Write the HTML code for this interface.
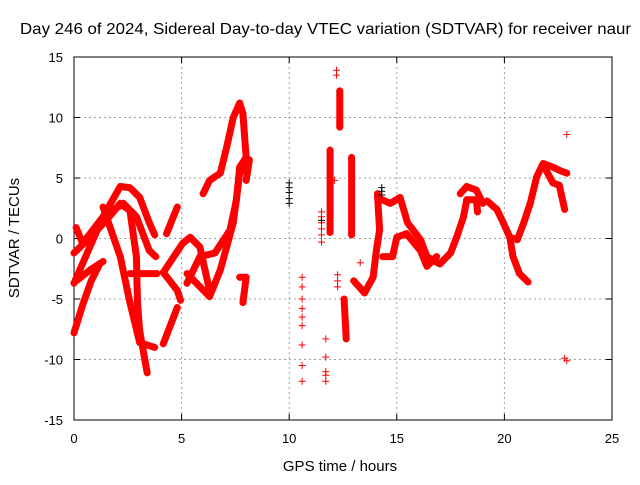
<!DOCTYPE html>
<html><head><meta charset="utf-8"><style>
body{margin:0;background:#fff;}
svg text{font-family:"Liberation Sans",sans-serif;fill:#000;}
</style></head><body>
<svg id="chart" width="640" height="480" viewBox="0 0 640 480" xmlns="http://www.w3.org/2000/svg">
<rect width="640" height="480" fill="#fff"/>
<text x="20" y="34" font-size="16" textLength="611" lengthAdjust="spacingAndGlyphs">Day 246 of 2024, Sidereal Day-to-day VTEC variation (SDTVAR) for receiver naur</text>
<g id="grid"></g><g id="axes"></g><g id="marks"></g>
<text x="340" y="471" font-size="15" text-anchor="middle">GPS time / hours</text>
<text transform="translate(19,238) rotate(-90)" font-size="15" text-anchor="middle">SDTVAR / TECUs</text>
</svg>
<script>
const xTicks=[0,5,10,15,20,25];
const yTicks=[-15,-10,-5,0,5,10,15];
const traces=[
[[0,-7.8],[0.4,-5.5],[0.8,-3.5],[1.2,-2.1]],
[[0,-3.7],[1.35,1.8],[2.15,4.3],[2.6,4.2],[3.05,3.4],[3.5,1.3],[3.75,0.3]],
[[0.1,0.9],[0.4,-0.4],[1.35,1.8],[2.3,2.9],[2.9,1.8],[3.5,-1],[3.8,-1.5]],
[[0,-1.2],[0.75,0.1],[1.5,1.5],[2.15,2.9],[2.6,2.3],[2.9,-1.5],[2.95,-5.3],[3.05,-7.6],[3.4,-11.1]],
[[1.35,2.6],[2.15,-1.5],[2.6,-5.3],[3.05,-8.6],[3.75,-9]],
[[0.1,-3.5],[0.75,-2.6],[1.35,-1.9]],
[[2.6,-2.9],[3.85,-2.9]],
[[4.15,-8.7],[4.8,-5.7]],
[[4.15,-2.8],[5.05,-0.4],[5.4,0.1],[5.85,-0.7],[6.3,-4.3],[6.3,-4.8]],
[[4.15,-2.8],[4.8,-4.3],[4.95,-5.1]],
[[4.3,0.4],[4.8,2.6]],
[[5.25,-3.7],[5.85,-1.5],[6.55,-1.2],[7.25,0.7],[7.55,3.2],[7.7,5.9],[8.0,6.7]],
[[6.0,3.7],[6.3,4.8],[6.8,5.4],[7.1,7.6],[7.4,10],[7.7,11.2],[7.85,10.3],[8.0,6.7]],
[[5.25,-2.9],[6.3,-4.8],[6.8,-2.6],[7.4,1.3],[7.7,5.4],[8.15,6.5],[8.0,4.8]],
[[7.7,-3.2],[8.0,-3.2],[7.85,-5.3]],
[[13.0,-3.5],[13.5,-4.5],[13.9,-3.2],[14.05,-1],[14.2,0.7],[14.1,3.7]],
[[14.2,3.3],[14.7,2.9],[15.15,3.4],[15.5,1.3],[16.1,-0.1],[16.4,-1.5],[17.0,-2.1],[17.5,-1.2],[17.8,0.2],[18.1,1.8],[18.25,3.2],[18.7,3.2],[18.75,2.2]],
[[14.35,-1.5],[14.8,-1.5],[15.0,0.1],[15.45,0.4],[16.1,-1],[16.4,-2.3],[16.85,-1.5]],
[[17.95,3.7],[18.25,4.3],[18.7,4],[19.0,2.9]],
[[19.2,3.1],[19.65,2.4],[19.95,1.3],[20.25,0.1],[20.4,-1.5],[20.7,-2.9],[21.1,-3.6]],
[[20.25,0.1],[20.6,-0.1],[20.9,1.3],[21.2,2.9],[21.5,5.1],[21.8,6.2],[22.25,5.9],[22.6,5.6],[22.9,5.4]],
[[21.95,5.6],[22.25,4.6],[22.55,4.4],[22.8,2.4]],
[[12.9,0.3],[12.9,6.7]],
[[11.9,0.5],[11.9,7.3]],
[[12.35,9.2],[12.35,12.2]],
[[12.55,-5],[12.65,-8.3]]
];
const scatterX=[10.6,10.6,10.6,10.6,10.6,10.6,10.6,10.6,10.6,11.5,11.5,11.5,11.5,11.5,11.5,11.7,11.7,11.7,11.7,11.7,12.2,12.2,12.1,12.25,12.25,12.25,22.9,22.8,22.9,13.2,13.3];
const scatterY=[-3.2,-4,-5,-5.8,-6.5,-7.2,-8.8,-10.5,-11.8,2.2,1.8,1.3,0.8,0.3,-0.3,-8.3,-9.8,-11,-11.3,-11.8,13.9,13.5,4.8,-3,-3.5,-4,8.6,-9.9,-10.1,-3.8,-2];
const blackX=[10,10,10,10,10,14.3,14.3,14.3,11.5];
const blackY=[4.6,4.2,3.8,3.3,2.9,4.2,3.9,3.6,1.5];
const X=v=>74+v*(612-74)/25;
const Y=v=>238.5-v*(420-57)/30;
const NS="http://www.w3.org/2000/svg";
function mk(tag,attrs,parent){const e=document.createElementNS(NS,tag);for(const k in attrs)e.setAttribute(k,attrs[k]);parent.appendChild(e);return e;}
const grid=document.getElementById('grid'),axes=document.getElementById('axes'),marks=document.getElementById('marks');
xTicks.forEach(t=>{
 if(t>0&&t<25){const g=mk('line',{x1:X(t),x2:X(t),y1:57,y2:420,stroke:'#a0a0a0','stroke-dasharray':'2,3'},grid);
 
 }
 const tx=mk('text',{x:X(t),y:443,'font-size':13,'text-anchor':'middle'},axes);tx.textContent=t;
 
 
 mk('line',{x1:X(t),x2:X(t),y1:420,y2:414,stroke:'#000'},axes);
 mk('line',{x1:X(t),x2:X(t),y1:57,y2:63,stroke:'#000'},axes);
});
yTicks.forEach(t=>{
 if(t>-15&&t<15){const g=mk('line',{x1:74,x2:612,y1:Y(t),y2:Y(t),stroke:'#a0a0a0','stroke-dasharray':'2,3'},grid);
 
 }
 const tx=mk('text',{x:63,y:Y(t)+5,'font-size':13,'text-anchor':'end'},axes);tx.textContent=t;
 
 
 mk('line',{x1:74,x2:80,y1:Y(t),y2:Y(t),stroke:'#000'},axes);
 mk('line',{x1:612,x2:606,y1:Y(t),y2:Y(t),stroke:'#000'},axes);
});
const frame=mk('rect',{x:74,y:57,width:538,height:363,fill:'none',stroke:'#000'},axes);


function plus(x,y,c,p){mk('path',{d:`M${X(x)-3.5},${Y(y)}h7M${X(x)},${Y(y)-3.5}v7`,stroke:c,'stroke-width':1,fill:'none'},p);}
traces.forEach((tr,i)=>{
 const g=mk('g',{},marks);
 
 
 mk('polyline',{points:tr.map(p=>X(p[0])+','+Y(p[1])).join(' '),fill:'none',stroke:'#f00','stroke-width':7,'stroke-linejoin':'round','stroke-linecap':'round'},g);
 tr.forEach(p=>plus(p[0],p[1],'#f00',g));
});
const sg=mk('g',{},marks);


scatterX.forEach((x,i)=>plus(x,scatterY[i],'#f00',sg));
const bg=mk('g',{},marks);


blackX.forEach((x,i)=>plus(x,blackY[i],'#000',bg));
</script>
</body></html>
